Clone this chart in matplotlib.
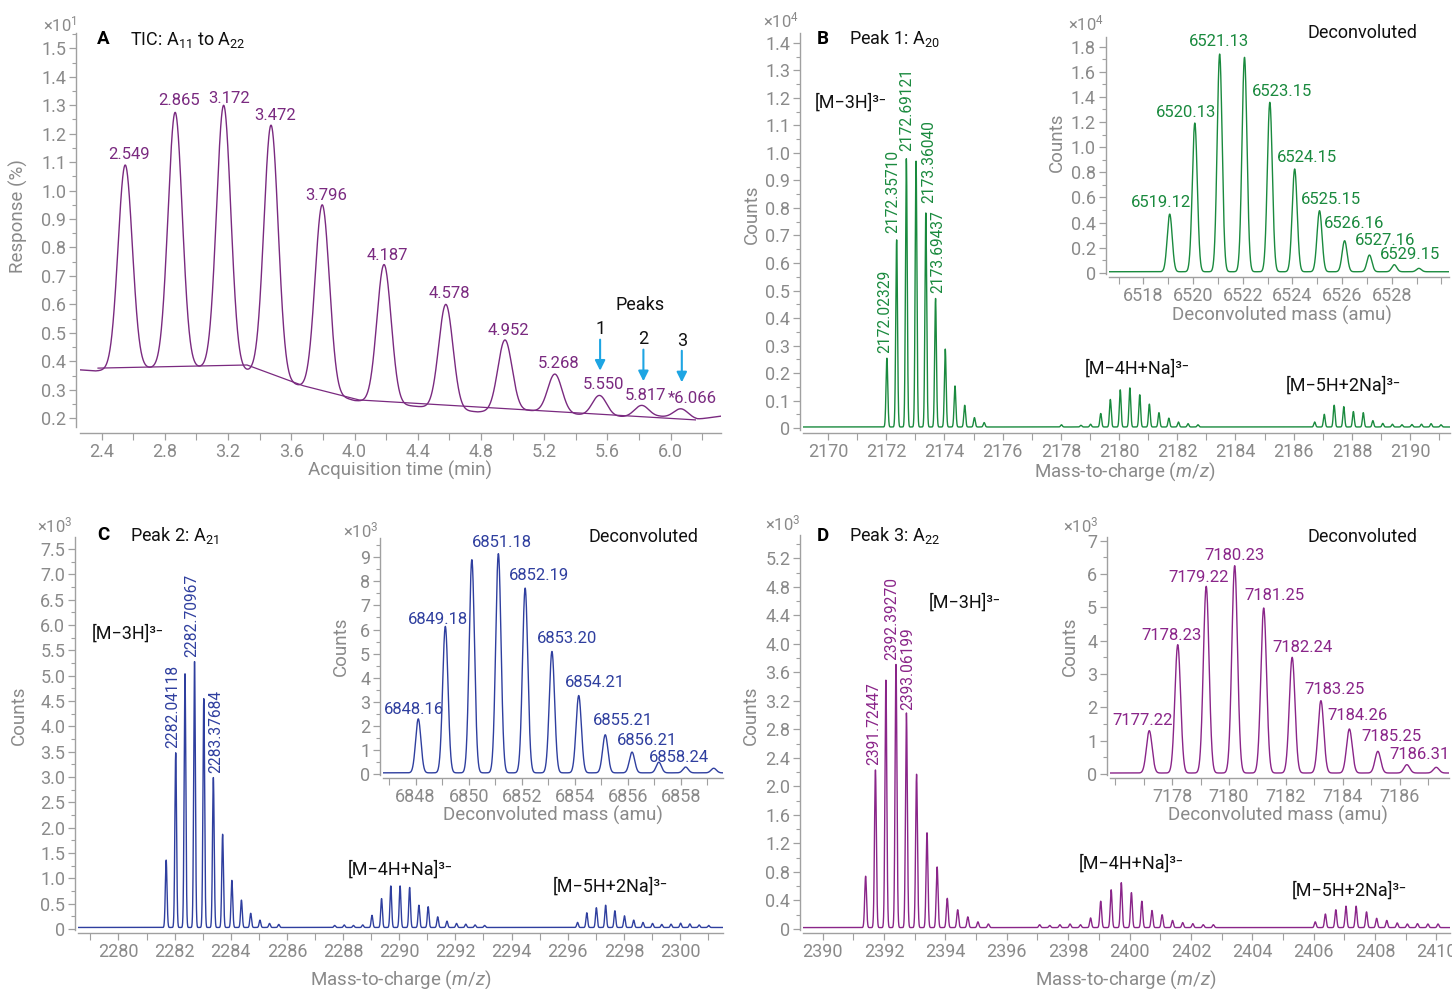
import numpy as np
import matplotlib
matplotlib.use("Agg")
import matplotlib.pyplot as plt
from matplotlib.ticker import MultipleLocator, FixedLocator, FuncFormatter

plt.rcParams['font.family'] = ['Roboto', 'DejaVu Sans']
plt.rcParams['mathtext.fontset'] = 'custom'
plt.rcParams['mathtext.rm'] = 'Roboto'
plt.rcParams['mathtext.it'] = 'Roboto:italic'
plt.rcParams['mathtext.bf'] = 'Roboto:bold'

W, H = 1452, 989
GRAY = '#8a8a8a'
SPINE = '#a0a0a0'
PURPLE_A = '#7a2a80'
GREEN = '#1a8a3e'
BLUE = '#2f3f9f'
PURPLE_D = '#8a2589'
ARROW = '#1ea5e3'

# ---------------- data ----------------
# A: total ion chromatogram (x10^1 %)
tic_rt = [2.549, 2.865, 3.172, 3.472, 3.796, 4.187, 4.578, 4.952, 5.268, 5.550, 5.817, 6.066]
tic_apex = [1.09, 1.275, 1.30, 1.23, 0.95, 0.74, 0.60, 0.475, 0.355, 0.28, 0.245, 0.233]
tic_labels = ['2.549', '2.865', '3.172', '3.472', '3.796', '4.187', '4.578', '4.952',
              '5.268', '5.550', '5.817', '*6.066']
tic_floor_rt = [2.26, 2.36, 2.70, 3.03, 3.35, 3.68, 4.00, 4.40, 4.78, 5.10, 5.45, 5.70, 5.93, 6.17, 6.33]
tic_floor = [0.370, 0.366, 0.376, 0.378, 0.364, 0.309, 0.262, 0.241, 0.222, 0.227, 0.211, 0.205, 0.206, 0.196, 0.208]
intbase_rt = [2.377, 3.32, 3.676, 4.03, 6.157]
intbase = [0.376, 0.387, 0.314, 0.264, 0.194]

# B: peak 1, A20 (x10^4 counts)
b_mz = [2172.023, 2172.357, 2172.691, 2173.024, 2173.360, 2173.694, 2174.028, 2174.362,
        2174.696, 2175.030, 2175.364,
        2178.02, 2178.69, 2179.02,
        2179.37, 2179.70, 2180.04, 2180.37, 2180.71, 2181.04, 2181.37, 2181.71, 2182.04,
        2182.37, 2182.71,
        2186.72, 2187.05, 2187.39, 2187.72, 2188.05, 2188.39, 2188.72, 2189.06, 2189.39,
        2189.72, 2190.06, 2190.39, 2190.72, 2191.06]
b_counts = [0.25, 0.68, 0.975, 0.966, 0.778, 0.467, 0.283, 0.149, 0.079, 0.034, 0.016,
            0.008, 0.006, 0.010,
            0.049, 0.100, 0.135, 0.142, 0.117, 0.083, 0.052, 0.032, 0.018, 0.012, 0.008,
            0.018, 0.046, 0.079, 0.074, 0.056, 0.052, 0.023, 0.013, 0.010, 0.008, 0.009,
            0.010, 0.012, 0.008]
b_dec_mass = [6519.06, 6520.07, 6521.07, 6522.07, 6523.09, 6524.09, 6525.09, 6526.10,
              6527.10, 6528.10, 6529.09]
b_dec_counts = [0.459, 1.184, 1.733, 1.707, 1.349, 0.818, 0.486, 0.247, 0.133, 0.056, 0.027]

# C: peak 2, A21 (x10^3 counts)
c_mz = [2281.70, 2282.04, 2282.37, 2282.71, 2283.04, 2283.38, 2283.71, 2284.04, 2284.38,
        2284.71, 2285.04, 2285.38, 2285.71,
        2287.70, 2288.04, 2288.37, 2288.70,
        2289.03, 2289.37, 2289.70, 2290.03, 2290.37, 2290.70, 2291.03, 2291.37, 2291.70,
        2292.04, 2292.37, 2292.70, 2293.04,
        2296.35, 2296.68, 2297.02, 2297.35, 2297.68, 2298.02, 2298.35, 2298.68, 2299.02,
        2299.35, 2299.68, 2300.02, 2300.35, 2300.68, 2301.02]
c_counts = [1.33, 3.45, 5.01, 5.25, 4.52, 2.96, 1.84, 0.93, 0.54, 0.28, 0.145, 0.08, 0.06,
            0.04, 0.05, 0.04, 0.05,
            0.24, 0.57, 0.82, 0.82, 0.79, 0.44, 0.41, 0.21, 0.125, 0.08, 0.065, 0.05, 0.04,
            0.10, 0.29, 0.39, 0.44, 0.33, 0.23, 0.145, 0.10, 0.08, 0.06, 0.065, 0.085, 0.07,
            0.05, 0.04]
c_dec_mass = [6848.10, 6849.12, 6850.12, 6851.12, 6852.13, 6853.14, 6854.15, 6855.15,
              6856.16, 6857.17, 6858.18, 6859.24]
c_dec_counts = [2.24, 6.08, 8.85, 9.10, 7.67, 5.04, 3.21, 1.58, 0.86, 0.44, 0.24, 0.19]

# D: peak 3, A22 (x10^3 counts)
d_mz = [2391.40, 2391.72, 2392.06, 2392.39, 2392.73, 2393.06, 2393.40, 2393.73, 2394.06,
        2394.40, 2394.73, 2395.06, 2395.40,
        2397.07, 2397.40, 2397.73, 2398.06, 2398.40,
        2398.73, 2399.06, 2399.40, 2399.73, 2400.06, 2400.40, 2400.73, 2401.06, 2401.40,
        2401.73, 2402.06, 2402.40, 2402.73,
        2406.05, 2406.38, 2406.72, 2407.05, 2407.38, 2407.72, 2408.05, 2408.38, 2408.72,
        2409.05, 2409.38, 2409.72, 2410.05]
d_counts = [0.72, 2.21, 3.47, 3.69, 3.01, 2.15, 1.33, 0.85, 0.41, 0.25, 0.15, 0.08, 0.05,
            0.04, 0.03, 0.04, 0.05, 0.04,
            0.135, 0.37, 0.53, 0.63, 0.49, 0.37, 0.24, 0.18, 0.10, 0.07, 0.055, 0.04, 0.04,
            0.08, 0.19, 0.25, 0.30, 0.30, 0.22, 0.13, 0.10, 0.065, 0.05, 0.055, 0.05, 0.05]
d_dec_mass = [7177.20, 7178.20, 7179.20, 7180.20, 7181.22, 7182.22, 7183.23, 7184.23,
              7185.23, 7186.25, 7187.28]
d_dec_counts = [1.27, 3.85, 5.60, 6.22, 4.95, 3.47, 2.17, 1.32, 0.65, 0.25, 0.17]


# ---------------- helpers ----------------
fig = plt.figure(figsize=(W / 100, H / 100), dpi=100)


def box(x0, x1, y0, y1):
    return fig.add_axes([x0 / W, 1 - y1 / H, (x1 - x0) / W, (y1 - y0) / H])


def ftext(x, y, s, **kw):
    kw.setdefault('ha', 'center')
    kw.setdefault('va', 'center')
    return fig.text(x / W, 1 - y / H, s, **kw)


def spectrum(x, centers, heights, width, floor=0.0):
    y = np.full_like(x, floor)
    for c, h in zip(centers, heights):
        y += h * np.exp(-0.5 * ((x - c) / width) ** 2)
    return y


def zero_fmt(dec):
    def f(v, pos):
        if abs(v) < 1e-9:
            return '0'
        return f'{v:.{dec}f}'
    return FuncFormatter(f)


def style(ax, xlim, ylim, xmaj, xmin, ymaj, ymin, xdec, ydec, off_l=2.2, off_b=2.2,
          xfixed=None):
    ax.set_xlim(*xlim)
    ax.set_ylim(*ylim)
    ax.patch.set_alpha(0)
    for s in ['top', 'right']:
        ax.spines[s].set_visible(False)
    ax.spines['left'].set_position(('outward', off_l))
    ax.spines['bottom'].set_position(('outward', off_b))
    for s in ['left', 'bottom']:
        ax.spines[s].set_color(SPINE)
        ax.spines[s].set_linewidth(1.0)
    if xfixed is not None:
        ax.xaxis.set_major_locator(FixedLocator(xfixed))
    else:
        ax.xaxis.set_major_locator(MultipleLocator(xmaj))
    ax.xaxis.set_minor_locator(MultipleLocator(xmin))
    ax.yaxis.set_major_locator(MultipleLocator(ymaj))
    ax.yaxis.set_minor_locator(MultipleLocator(ymin))
    ax.xaxis.set_major_formatter(zero_fmt(xdec))
    ax.yaxis.set_major_formatter(zero_fmt(ydec))
    ax.tick_params(which='major', length=5, width=0.9, color=SPINE, labelcolor=GRAY,
                   labelsize=13, pad=2)
    ax.tick_params(axis='y', which='minor', length=3, width=0.8, color=SPINE)
    ax.tick_params(axis='x', which='minor', length=5, width=0.8, color=SPINE)


def title(xl, xt, y, letter, s):
    ftext(xl, y, letter, ha='left', fontsize=13.5, fontweight='bold', color='black')
    ftext(xt, y, s, ha='left', fontsize=13, color='#111111')


def ion(x, y, s):
    ftext(x, y, s + '³⁻', ha='left', fontsize=13, color='#111111')


# ---------------- A ----------------
axA = box(80, 721, 33, 427)
rt = np.linspace(2.25, 6.34, 4000)
floorA = np.interp(rt, tic_floor_rt, tic_floor)
ampA = np.array(tic_apex) - np.interp(tic_rt, tic_floor_rt, tic_floor)
respA = spectrum(rt, tic_rt, ampA, 0.045) + floorA
axA.plot(rt, respA, color=PURPLE_A, lw=1.0)
axA.plot(intbase_rt, intbase, color=PURPLE_A, lw=0.9)
style(axA, (2.263, 6.319), (0.169, 1.554), 0.4, 0.2, 0.1, 0.05, 1, 1, off_l=2.9, off_b=4.3)
lab_posA = [(2.572, 1.128), (2.887, 1.315), (3.204, 1.324), (3.499, 1.263), (3.818, 0.982),
            (4.208, 0.771), (4.598, 0.639), (4.976, 0.508), (5.292, 0.393), (5.575, 0.317),
            (5.841, 0.279), (6.137, 0.268)]
for s, (x, y) in zip(tic_labels, lab_posA):
    axA.text(x, y, s, color=PURPLE_A, fontsize=12, ha='center', va='center')
axA.text(5.807, 0.598, 'Peaks', fontsize=13, ha='center', va='center', color='#111111')
for n, x, yt, y0, y1 in [('1', 5.554, 0.514, 0.476, 0.367),
                         ('2', 5.828, 0.477, 0.441, 0.330),
                         ('3', 6.071, 0.471, 0.437, 0.326)]:
    axA.text(x, yt, n, fontsize=13, ha='center', va='center', color='#111111')
    axA.annotate('', xy=(x, y1), xytext=(x, y0),
                 arrowprops=dict(arrowstyle='-|>', color=ARROW, lw=1.5, mutation_scale=15,
                                 shrinkA=0, shrinkB=0))
ftext(77, 24, r'×10$^{1}$', ha='right', fontsize=12, color=GRAY)
ftext(18.7, 215.7, 'Response (%)', rotation=90, fontsize=13.5, color=GRAY)
ftext(399.7, 470.7, 'Acquisition time (min)', fontsize=13.5, color=GRAY)
title(97, 130.5, 39.5, 'A', r'TIC: A$_{11}$ to A$_{22}$')

# ---------------- B ----------------
axB = box(803, 1450, 33, 430)
mzB = np.linspace(2169.1, 2191.4, 20000)
axB.plot(mzB, spectrum(mzB, b_mz, b_counts, 0.03, 0.004), color=GREEN, lw=1.0)
style(axB, (2169.14, 2191.37), (-0.007, 1.436), 2, 1, 0.1, 0.05, 0, 1)
for s, x, y in [('2172.02329', 2171.96, 0.273), ('2172.35710', 2172.24, 0.708),
                ('2172.69121', 2172.70, 1.008), ('2173.36040', 2173.45, 0.817),
                ('2173.69437', 2173.76, 0.49)]:
    axB.text(x, y, s, rotation=90, ha='center', va='bottom', fontsize=11.2, color=GREEN)
ftext(798.5, 20, r'×10$^{4}$', ha='right', fontsize=12, color=GRAY)
ftext(751.8, 214, 'Counts', rotation=90, fontsize=13.5, color=GRAY)
ftext(1125, 471.7, r'Mass-to-charge ($m/z$)', fontsize=13.5, color=GRAY)
title(817, 849, 38.5, 'B', r'Peak 1: A$_{20}$')
ion(815, 103, '[M−3H]')
ion(1085, 369, '[M−4H+Na]')
ion(1286, 386, '[M−5H+2Na]')

axBi = box(1108.6, 1448.7, 37, 274)
mB = np.linspace(6516.5, 6530.4, 5000)
axBi.plot(mB, spectrum(mB, b_dec_mass, b_dec_counts, 0.1, 0.008), color=GREEN, lw=1.0)
style(axBi, (6516.60, 6530.29), (-0.01, 1.877), 2, 1, 0.2, 0.1, 0, 1,
      xfixed=[6518, 6520, 6522, 6524, 6526, 6528])
for s, x, y in [('6519.12', 6518.71, 0.56), ('6520.13', 6519.72, 1.274),
                ('6521.13', 6521.05, 1.84), ('6523.15', 6523.59, 1.44),
                ('6524.15', 6524.59, 0.919), ('6525.15', 6525.53, 0.587),
                ('6526.16', 6526.49, 0.393), ('6527.16', 6527.71, 0.255),
                ('6529.15', 6528.74, 0.149)]:
    axBi.text(x, y, s, ha='center', va='center', fontsize=12, color=GREEN)
ftext(1104, 23.3, r'×10$^{4}$', ha='right', fontsize=12, color=GRAY)
ftext(1057.2, 142.3, 'Counts', rotation=90, fontsize=13.5, color=GRAY)
ftext(1282, 315, 'Deconvoluted mass (amu)', fontsize=13.5, color=GRAY)
ftext(1362, 33.3, 'Deconvoluted', fontsize=13, color='#111111')

# ---------------- C ----------------
axC = box(78, 723, 537, 930)
mzC = np.linspace(2278.5, 2301.6, 20000)
axC.plot(mzC, spectrum(mzC, c_mz, c_counts, 0.03, 0.03), color=BLUE, lw=1.0)
style(axC, (2278.56, 2301.53), (-0.02, 7.74), 2, 1, 0.5, 0.25, 0, 1)
for s, x, y in [('2282.04118', 2281.94, 3.57), ('2282.70967', 2282.62, 5.37),
                ('2283.37684', 2283.48, 3.08)]:
    axC.text(x, y, s, rotation=90, ha='center', va='bottom', fontsize=11.2, color=BLUE)
ftext(72.5, 525, r'×10$^{3}$', ha='right', fontsize=12, color=GRAY)
ftext(18.7, 715, 'Counts', rotation=90, fontsize=13.5, color=GRAY)
ftext(400.7, 980, r'Mass-to-charge ($m/z$)', fontsize=13.5, color=GRAY)
title(97, 130.5, 535.5, 'C', r'Peak 2: A$_{21}$')
ion(92, 634, '[M−3H]')
ion(348, 870, '[M−4H+Na]')
ion(553, 887, '[M−5H+2Na]')

axCi = box(383, 723, 538, 775)
mC = np.linspace(6846.7, 6859.7, 5000)
axCi.plot(mC, spectrum(mC, c_dec_mass, c_dec_counts, 0.1, 0.05), color=BLUE, lw=1.0)
style(axCi, (6846.77, 6859.59), (-0.04, 9.80), 2, 1, 1, 0.5, 0, 0)
for s, x, y in [('6848.16', 6847.95, 2.69), ('6849.18', 6848.86, 6.43),
                ('6851.18', 6851.25, 9.61), ('6852.19', 6852.67, 8.23),
                ('6853.20', 6853.71, 5.64), ('6854.21', 6854.75, 3.79),
                ('6855.21', 6855.81, 2.22), ('6856.21', 6856.71, 1.41),
                ('6858.24', 6857.93, 0.68)]:
    axCi.text(x, y, s, ha='center', va='center', fontsize=12, color=BLUE)
ftext(379, 530, r'×10$^{3}$', ha='right', fontsize=12, color=GRAY)
ftext(340.7, 646.7, 'Counts', rotation=90, fontsize=13.5, color=GRAY)
ftext(553, 815, 'Deconvoluted mass (amu)', fontsize=13.5, color=GRAY)
ftext(643, 536.7, 'Deconvoluted', fontsize=13, color='#111111')

# ---------------- D ----------------
axD = box(803, 1450, 535, 930)
mzD = np.linspace(2389.3, 2410.5, 20000)
axD.plot(mzD, spectrum(mzD, d_mz, d_counts, 0.03, 0.02), color=PURPLE_D, lw=1.0)
style(axD, (2389.36, 2410.44), (-0.014, 5.526), 2, 1, 0.4, 0.2, 0, 1)
for s, x, y in [('2391.72447', 2391.66, 2.30), ('2392.39270', 2392.26, 3.77),
                ('2393.06199', 2392.76, 3.07)]:
    axD.text(x, y, s, rotation=90, ha='center', va='bottom', fontsize=11.2, color=PURPLE_D)
ftext(800.3, 523.3, r'×10$^{3}$', ha='right', fontsize=12, color=GRAY)
ftext(750.8, 715, 'Counts', rotation=90, fontsize=13.5, color=GRAY)
ftext(1125.5, 980, r'Mass-to-charge ($m/z$)', fontsize=13.5, color=GRAY)
title(817, 849, 536, 'D', r'Peak 3: A$_{22}$')
ion(929, 603, '[M−3H]')
ion(1079, 864, '[M−4H+Na]')
ion(1292, 891, '[M−5H+2Na]')

axDi = box(1110, 1449, 537, 775)
mD = np.linspace(7175.7, 7187.8, 5000)
axDi.plot(mD, spectrum(mD, d_dec_mass, d_dec_counts, 0.1, 0.03), color=PURPLE_D, lw=1.0)
style(axDi, (7175.82, 7187.73), (-0.03, 7.11), 2, 1, 1, 0.5, 0, 0,
      xfixed=[7178, 7180, 7182, 7184, 7186])
for s, x, y in [('7177.22', 7176.97, 1.60), ('7178.23', 7177.98, 4.17),
                ('7179.22', 7178.93, 5.89), ('7180.23', 7180.18, 6.55),
                ('7181.25', 7181.58, 5.35), ('7182.24', 7182.59, 3.79),
                ('7183.25', 7183.69, 2.54), ('7184.26', 7184.52, 1.75),
                ('7185.25', 7185.72, 1.12), ('7186.31', 7186.70, 0.59)]:
    axDi.text(x, y, s, ha='center', va='center', fontsize=12, color=PURPLE_D)
ftext(1099, 525, r'×10$^{3}$', ha='right', fontsize=12, color=GRAY)
ftext(1070.2, 646.7, 'Counts', rotation=90, fontsize=13.5, color=GRAY)
ftext(1278, 815.7, 'Deconvoluted mass (amu)', fontsize=13.5, color=GRAY)
ftext(1362, 536.7, 'Deconvoluted', fontsize=13, color='#111111')

fig.savefig('out.png', dpi=100)
